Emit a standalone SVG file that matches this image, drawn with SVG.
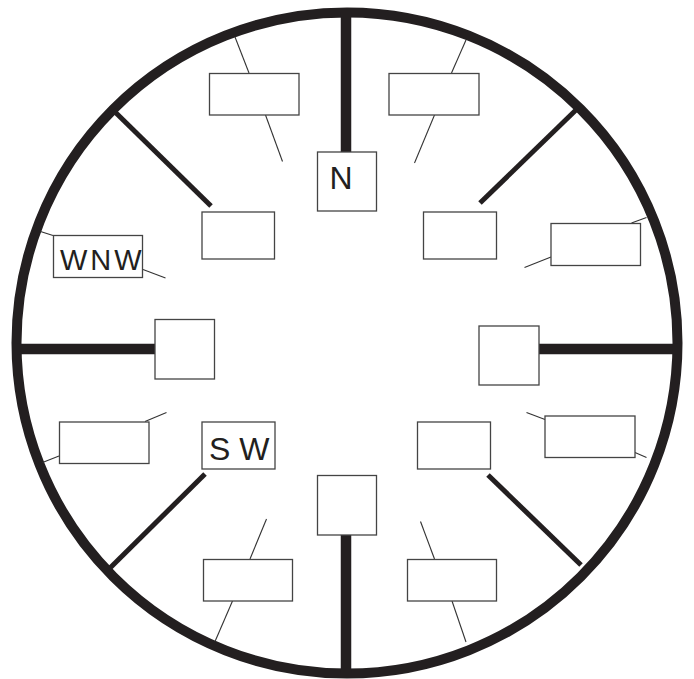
<svg xmlns="http://www.w3.org/2000/svg" width="694" height="679" viewBox="0 0 694 679">
<style>
.box{fill:#fff;stroke:#444;stroke-width:1.3}
.lead{stroke:#333;stroke-width:1.1;fill:none}
.card{stroke:#231f20;stroke-width:10.5;fill:none}
.diag{stroke:#231f20;stroke-width:5;fill:none}
.lbl{font-family:"Liberation Sans",Arial,sans-serif;fill:#231f20}
</style>
<rect width="694" height="679" fill="#fff"/>
<circle cx="347" cy="343" r="330.5" fill="none" stroke="#231f20" stroke-width="10"/>
<g id="connectors">
<line class="card" x1="346" y1="12" x2="346" y2="152"/>
<line class="card" x1="346" y1="535" x2="346" y2="673"/>
<line class="card" x1="17" y1="349" x2="155" y2="349"/>
<line class="card" x1="539" y1="349" x2="678" y2="349"/>
<line class="diag" x1="113" y1="110" x2="211" y2="206"/>
<line class="diag" x1="578" y1="108" x2="480" y2="203"/>
<line class="diag" x1="205" y1="474" x2="109" y2="569"/>
<line class="diag" x1="488" y1="475" x2="581" y2="565"/>
<line class="lead" x1="235" y1="37" x2="249" y2="73"/>
<line class="lead" x1="265.5" y1="115" x2="282.5" y2="161.5"/>
<line class="lead" x1="466" y1="40" x2="451.5" y2="73"/>
<line class="lead" x1="434.5" y1="115" x2="414.5" y2="163"/>
<line class="lead" x1="40.5" y1="231.5" x2="53" y2="235.5"/>
<line class="lead" x1="143" y1="269.5" x2="165.5" y2="278"/>
<line class="lead" x1="524.5" y1="267.5" x2="551" y2="257"/>
<line class="lead" x1="631.5" y1="223" x2="646.5" y2="217.5"/>
<line class="lead" x1="145" y1="421.5" x2="166.5" y2="412.5"/>
<line class="lead" x1="59" y1="456" x2="42.5" y2="462.5"/>
<line class="lead" x1="526.5" y1="412.5" x2="545" y2="419.5"/>
<line class="lead" x1="635" y1="452.5" x2="646.5" y2="457.5"/>
<line class="lead" x1="266.5" y1="519" x2="250" y2="559"/>
<line class="lead" x1="232.5" y1="601" x2="215" y2="641.5"/>
<line class="lead" x1="420.5" y1="521.5" x2="434.5" y2="559"/>
<line class="lead" x1="452" y1="601" x2="466" y2="642"/>
</g>
<g id="n"><rect class="box" x="317.5" y="152" width="59" height="59"/><text class="lbl" x="329.5" y="188.5" font-size="32">N</text></g>
<g id="s"><rect class="box" x="317.5" y="475.5" width="59" height="59.5"/></g>
<g id="w"><rect class="box" x="155" y="319.5" width="59.5" height="59.5"/></g>
<g id="e"><rect class="box" x="479" y="326" width="60" height="59"/></g>
<g id="nw"><rect class="box" x="202" y="212" width="72.5" height="47"/></g>
<g id="ne"><rect class="box" x="423.5" y="212" width="73" height="47"/></g>
<g id="sw"><rect class="box" x="202" y="422" width="73" height="47"/><text class="lbl" x="209" y="460" font-size="32">S W</text></g>
<g id="se"><rect class="box" x="417.5" y="422" width="73" height="47"/></g>
<g id="nnw"><rect class="box" x="209.5" y="73.5" width="89.5" height="41.5"/></g>
<g id="nne"><rect class="box" x="389" y="73.5" width="90" height="41.5"/></g>
<g id="wnw"><rect class="box" x="53.5" y="235.5" width="89" height="42"/><text class="lbl" x="60" y="270" font-size="29" letter-spacing="3">WNW</text></g>
<g id="ene"><rect class="box" x="551" y="223.5" width="89.5" height="42"/></g>
<g id="wsw"><rect class="box" x="59.5" y="422" width="89.5" height="41.5"/></g>
<g id="ese"><rect class="box" x="545" y="416" width="90" height="41.5"/></g>
<g id="ssw"><rect class="box" x="203.5" y="559.5" width="89" height="41.5"/></g>
<g id="sse"><rect class="box" x="407.5" y="559.5" width="89" height="41.5"/></g>
</svg>
